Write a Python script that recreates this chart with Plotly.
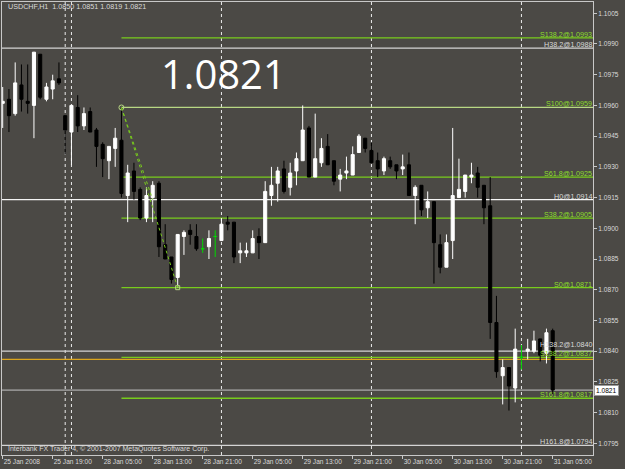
import pandas as pd
import plotly.graph_objects as go

# ---------------- data ----------------
symbol = "USDCHF,H1"
times = (list(pd.date_range("2008-01-25 11:00", "2008-01-25 20:00", freq="h"))
         + [pd.Timestamp("2008-01-27 23:00")]
         + list(pd.date_range("2008-01-28 00:00", "2008-01-31 05:00", freq="h")))

opens = [1.0961, 1.0963, 1.0956, 1.0970, 1.0962, 1.0960, 1.0985, 1.0963, 1.0968, 1.0973,
         1.0955, 1.0947, 1.0959, 1.0950, 1.0957, 1.0948, 1.0941, 1.0933, 1.0939, 1.0943,
         1.0916, 1.0928, 1.0919, 1.0905, 1.0915, 1.0922, 1.0892, 1.0886, 1.0876, 1.0896,
         1.0899, 1.0896, 1.0890, 1.0891, 1.0896, 1.0894, 1.0903, 1.0903, 1.0888, 1.0888,
         1.0888, 1.0896, 1.0893, 1.0916, 1.0922, 1.0929, 1.0920, 1.0928, 1.0933, 1.0949,
         1.0925, 1.0932, 1.0940, 1.0933, 1.0924, 1.0927, 1.0926, 1.0937, 1.0944, 1.0938,
         1.0933, 1.0928, 1.0933, 1.0931, 1.0929, 1.0931, 1.0916, 1.0921, 1.0910, 1.0913,
         1.0892, 1.0881, 1.0894, 1.0915, 1.0918, 1.0925, 1.0927, 1.0921, 1.0911, 1.0854,
         1.0828, 1.0832, 1.0822, 1.0837, 1.0840, 1.0840, 1.0846, 1.0839, 1.0850]
highs = [1.0969, 1.0968, 1.0981, 1.0980, 1.0980, 1.0986, 1.0985, 1.0971, 1.0975, 1.0981,
         1.0955, 1.0960, 1.0965, 1.0959, 1.0959, 1.0949, 1.0942, 1.0940, 1.0949, 1.0959,
         1.0931, 1.0932, 1.0920, 1.0920, 1.0923, 1.0923, 1.0902, 1.0886, 1.0897, 1.0899,
         1.0902, 1.0902, 1.0895, 1.0899, 1.0899, 1.0905, 1.0906, 1.0903, 1.0893, 1.0893,
         1.0899, 1.0900, 1.0923, 1.0930, 1.0930, 1.0933, 1.0932, 1.0937, 1.0960, 1.0950,
         1.0956, 1.0944, 1.0946, 1.0933, 1.0929, 1.0935, 1.0940, 1.0946, 1.0944, 1.0942,
         1.0937, 1.0935, 1.0935, 1.0931, 1.0936, 1.0937, 1.0921, 1.0921, 1.0918, 1.0913,
         1.0897, 1.0897, 1.0949, 1.0934, 1.0926, 1.0932, 1.0930, 1.0921, 1.0925, 1.0867,
         1.0836, 1.0832, 1.0851, 1.0843, 1.0846, 1.0850, 1.0846, 1.0851, 1.0851]
lows = [1.0949, 1.0947, 1.0955, 1.0957, 1.0956, 1.0944, 1.0963, 1.0962, 1.0963, 1.0970,
        1.0936, 1.0931, 1.0947, 1.0948, 1.0947, 1.0930, 1.0925, 1.0924, 1.0930, 1.0915,
        1.0903, 1.0914, 1.0904, 1.0903, 1.0903, 1.0886, 1.0885, 1.0873, 1.0871, 1.0887,
        1.0892, 1.0889, 1.0888, 1.0885, 1.0886, 1.0894, 1.0899, 1.0883, 1.0883, 1.0886,
        1.0888, 1.0885, 1.0893, 1.0911, 1.0913, 1.0917, 1.0916, 1.0921, 1.0933, 1.0925,
        1.0925, 1.0930, 1.0931, 1.0921, 1.0918, 1.0924, 1.0926, 1.0937, 1.0937, 1.0932,
        1.0925, 1.0926, 1.0929, 1.0924, 1.0926, 1.0916, 1.0902, 1.0906, 1.0905, 1.0873,
        1.0878, 1.0881, 1.0885, 1.0915, 1.0915, 1.0922, 1.0915, 1.0902, 1.0846, 1.0827,
        1.0814, 1.0811, 1.0815, 1.0831, 1.0836, 1.0839, 1.0835, 1.0834, 1.0819]
closes = [1.0962, 1.0955, 1.0971, 1.0963, 1.0961, 1.0986, 1.0964, 1.0969, 1.0972, 1.0971,
          1.0948, 1.0960, 1.0950, 1.0956, 1.0947, 1.0940, 1.0934, 1.0940, 1.0944, 1.0917,
          1.0927, 1.0918, 1.0905, 1.0916, 1.0921, 1.0891, 1.0885, 1.0875, 1.0897, 1.0898,
          1.0897, 1.0890, 1.0890, 1.0895, 1.0896, 1.0902, 1.0902, 1.0886, 1.0889, 1.0889,
          1.0895, 1.0893, 1.0918, 1.0921, 1.0928, 1.0918, 1.0927, 1.0934, 1.0948, 1.0925,
          1.0934, 1.0939, 1.0931, 1.0923, 1.0926, 1.0928, 1.0936, 1.0945, 1.0939, 1.0932,
          1.0929, 1.0934, 1.0930, 1.0928, 1.0930, 1.0916, 1.0920, 1.0909, 1.0913, 1.0893,
          1.0881, 1.0893, 1.0916, 1.0919, 1.0926, 1.0926, 1.0920, 1.0910, 1.0854, 1.0830,
          1.0832, 1.0823, 1.0841, 1.0837, 1.0841, 1.0845, 1.0838, 1.0849, 1.0821]

# Fibonacci levels drawn on the chart (label, price)
s_levels = [("S138.2", 1.0993), ("S100", 1.0959), ("S61.8", 1.0925), ("S38.2", 1.0905),
            ("S0", 1.0871), ("S138.2", 1.0837), ("S161.8", 1.0817)]
h_levels = [("H38.2", 1.0988), ("H0", 1.0914), ("H138.2", 1.0840), ("H161.8", 1.0794)]
fib_start = (19, 1.0959)    # bar index, price
fib_end = (28, 1.0871)
fib_mid = (24, 1.0914)
extra_line = 1.0836
y_ticks = [1.1005, 1.0990, 1.0975, 1.0960, 1.0945, 1.0930, 1.0915, 1.0900,
           1.0885, 1.0870, 1.0855, 1.0840, 1.0825, 1.0810, 1.0795]

# ---------------- style ----------------
BG = "#4b4945"
GREEN = "#78cc1c"
PALE = "#b8d884"
LIGHT = "#dadada"
FONT = "Liberation Sans"
X_MIN, X_MAX = -0.112, 94.45
Y_MIN, Y_MAX = 1.07893, 1.10105

n = len(opens)
idx = list(range(n))
doji = [i for i in idx if opens[i] == closes[i]]
normal = [i for i in idx if i not in doji]

fig = go.Figure()
fig.add_trace(go.Candlestick(
    x=normal, open=[opens[i] for i in normal], high=[highs[i] for i in normal],
    low=[lows[i] for i in normal], close=[closes[i] for i in normal],
    increasing=dict(line=dict(color="#ffffff", width=1), fillcolor="#ffffff"),
    decreasing=dict(line=dict(color="#000000", width=1), fillcolor="#000000"),
    hoverinfo="skip"))
fig.add_trace(go.Candlestick(
    x=doji, open=[opens[i] for i in doji], high=[highs[i] for i in doji],
    low=[lows[i] for i in doji], close=[closes[i] for i in doji],
    increasing=dict(line=dict(color="#00d800", width=1), fillcolor="#00d800"),
    decreasing=dict(line=dict(color="#00d800", width=1), fillcolor="#00d800"),
    hoverinfo="skip"))

shapes = []
annotations = []
# day separators
for i in range(1, n):
    if times[i].date() != times[i - 1].date():
        shapes.append(dict(type="line", xref="x", yref="paper", x0=i, x1=i, y0=0, y1=1,
                           line=dict(color="#ececec", width=1, dash="3px,3px"), layer="below"))
# H levels (full width)
for name, v in h_levels:
    shapes.append(dict(type="line", xref="paper", yref="y", x0=0, x1=1, y0=v, y1=v,
                       line=dict(color="#f4f4f4" if name == "H0" else "#d4d4d4", width=1.2), layer="below"))
    annotations.append(dict(xref="paper", yref="y", x=1, y=v, xanchor="right", yanchor="bottom",
                            text=f"{name}@{v:.4f}", showarrow=False,
                            yshift=1 if name == "H138.2" else -2, borderpad=0,
                            font=dict(family=FONT, size=7.2, color=LIGHT)))
# extra orange line and bid line
shapes.append(dict(type="line", xref="paper", yref="y", x0=0, x1=1, y0=extra_line, y1=extra_line,
                   line=dict(color="#dba51e", width=1.2), layer="below"))
shapes.append(dict(type="line", xref="paper", yref="y", x0=0, x1=1, y0=closes[-1], y1=closes[-1],
                   line=dict(color="#c4c4c4", width=1), layer="below"))
# S levels (from fib start)
for name, v in s_levels:
    shapes.append(dict(type="line", xref="x", yref="y", x0=fib_start[0], x1=X_MAX, y0=v, y1=v,
                       line=dict(color=PALE if name == "S100" else GREEN, width=1.3), layer="below"))
    annotations.append(dict(xref="paper", yref="y", x=1, y=v, xanchor="right", yanchor="bottom",
                            text=f"{name}@{v:.4f}", showarrow=False, yshift=-2, borderpad=0,
                            font=dict(family=FONT, size=7.2, color="#8ede2c")))
# dotted fib lines
for end in (fib_end, fib_mid):
    shapes.append(dict(type="line", xref="x", yref="y", x0=fib_start[0], y0=fib_start[1],
                       x1=end[0], y1=end[1], line=dict(color=GREEN, width=1, dash="dot")))
fig.add_trace(go.Scatter(x=[fib_start[0]], y=[fib_start[1]], mode="markers",
                         marker=dict(symbol="circle-open", size=5, color=PALE), hoverinfo="skip"))
fig.add_trace(go.Scatter(x=[fib_end[0]], y=[fib_end[1]], mode="markers",
                         marker=dict(symbol="square-open", size=4, color=PALE), hoverinfo="skip"))

# texts
last = (opens[-1], highs[-1], lows[-1], closes[-1])
annotations.append(dict(xref="paper", yref="paper", x=0.0068, y=0.989, xanchor="left", yanchor="middle",
                        text=f"{symbol}  " + " ".join(f"{v:.4f}" for v in last), showarrow=False,
                        font=dict(family=FONT, size=7.2, color=LIGHT)))
annotations.append(dict(xref="paper", yref="paper", x=0.0068, y=0.0125, xanchor="left", yanchor="middle",
                        text="Interbank FX Trader 4, © 2001-2007 MetaQuotes Software Corp.", showarrow=False,
                        font=dict(family=FONT, size=7, color=LIGHT)))
annotations.append(dict(xref="paper", yref="paper", x=0.266, y=0.843, xanchor="left", yanchor="middle",
                        text=f"{closes[-1]:.4f}", showarrow=False,
                        font=dict(family="Open Sans", size=40, color="#ffffff")))
annotations.append(dict(xref="paper", yref="y", x=1, y=closes[-1], xanchor="left", yanchor="middle",
                        xshift=1, text=f"{closes[-1]:.4f}", showarrow=False, bgcolor="#ffffff",
                        bordercolor="#9a9a9a", borderwidth=1, borderpad=1,
                        font=dict(family=FONT, size=6.6, color="#000000")))

xt = list(range(0, n, 8))
xtext = [times[i].strftime("%d %b %Y") if i == 0 else times[i].strftime("%d %b %H:%M") for i in xt]

fig.update_layout(
    width=625, height=469, margin=dict(l=2, r=32, t=2, b=14),
    paper_bgcolor=BG, plot_bgcolor=BG, showlegend=False,
    shapes=shapes, annotations=annotations,
    xaxis=dict(range=[X_MIN, X_MAX], rangeslider=dict(visible=False), showgrid=False, zeroline=False,
               showline=True, linecolor="#c8c8c8", linewidth=1, mirror=True,
               ticks="outside", ticklen=3, tickcolor="#c8c8c8", tickvals=xt, ticktext=xtext,
               ticklabelposition="outside right", automargin=False,
               tickfont=dict(family=FONT, size=6.6, color=LIGHT)),
    yaxis=dict(range=[Y_MIN, Y_MAX], side="right", showgrid=False, zeroline=False,
               showline=True, linecolor="#c8c8c8", linewidth=1, mirror=True,
               ticks="outside", ticklen=3, tickcolor="#c8c8c8", tickvals=y_ticks,
               ticktext=[f"{v:.4f}" for v in y_ticks], automargin=False,
               tickfont=dict(family=FONT, size=6.6, color=LIGHT)),
)
fig.write_html("out.html")
